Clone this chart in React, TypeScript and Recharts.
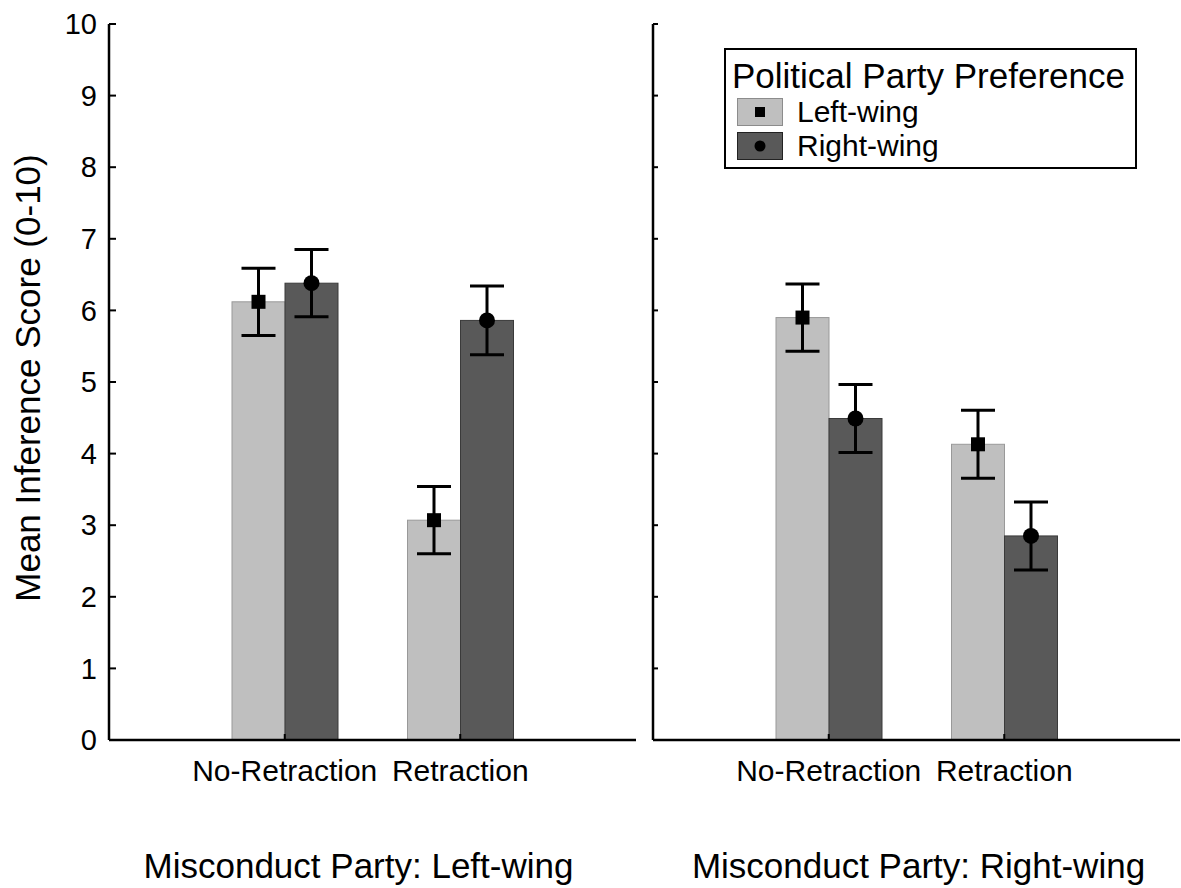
import React from "react";
import { BarChart, Bar, XAxis, YAxis, ErrorBar, Legend, Label } from "recharts";

const conditions = ["No-Retraction", "Retraction"];
const yTicks = [0, 1, 2, 3, 4, 5, 6, 7, 8, 9, 10];

// misconduct party: left-wing
const lwLeftMeans = [6.12, 3.07];
const lwLeftErrors = [0.47, 0.47];
const lwRightMeans = [6.38, 5.86];
const lwRightErrors = [0.47, 0.48];

// misconduct party: right-wing
const rwLeftMeans = [5.9, 4.13];
const rwLeftErrors = [0.47, 0.475];
const rwRightMeans = [4.49, 2.85];
const rwRightErrors = [0.475, 0.475];

const FONT = "'Liberation Sans', Arial, sans-serif";
const LIGHT = "#bfbfbf";
const DARK = "#595959";

const makeRows = (lm: number[], le: number[], rm: number[], re: number[]) =>
  conditions.map((c, i) => ({
    condition: c,
    left: lm[i],
    leftErr: le[i],
    right: rm[i],
    rightErr: re[i],
  }));

const leftRows = makeRows(lwLeftMeans, lwLeftErrors, lwRightMeans, lwRightErrors);
const rightRows = makeRows(rwLeftMeans, rwLeftErrors, rwRightMeans, rwRightErrors);

const LeftWingBar = (props: any) => {
  const { x, y, width, height } = props;
  const cx = x + width / 2;
  return (
    <g>
      <rect x={x} y={y} width={width} height={height} fill={LIGHT} stroke="#999" strokeWidth={1} />
      <rect x={cx - 7} y={y - 7} width={14} height={14} fill="#000" />
    </g>
  );
};

const RightWingBar = (props: any) => {
  const { x, y, width, height } = props;
  const cx = x + width / 2;
  return (
    <g>
      <rect x={x} y={y} width={width} height={height} fill={DARK} stroke="#3a3a3a" strokeWidth={1} />
      <circle cx={cx} cy={y} r={8} fill="#000" />
    </g>
  );
};

const Swatch = ({ fill, edge, marker }: { fill: string; edge: string; marker: "square" | "circle" }) => (
  <svg width={46} height={28} style={{ display: "block", marginTop: 3 }}>
    <rect x={0.5} y={0.5} width={45} height={27} fill={fill} stroke={edge} strokeWidth={1} />
    {marker === "square" ? (
      <rect x={18} y={9} width={10} height={10} fill="#000" />
    ) : (
      <circle cx={23} cy={14} r={5.5} fill="#000" />
    )}
  </svg>
);

const PartyLegend = () => (
  <div
    style={{
      boxSizing: "border-box",
      width: 413,
      height: 121,
      border: "2px solid #000",
      background: "#fff",
      fontFamily: FONT,
      color: "#000",
      paddingTop: 8,
    }}
  >
    <div style={{ fontSize: 35, lineHeight: "36px", paddingLeft: 6, whiteSpace: "nowrap" }}>
      Political Party Preference
    </div>
    {[
      { name: "Left-wing", fill: LIGHT, edge: "#8c8c8c", marker: "square" as const },
      { name: "Right-wing", fill: DARK, edge: "#222", marker: "circle" as const },
    ].map((it) => (
      <div
        key={it.name}
        style={{ display: "flex", alignItems: "flex-start", height: 33, paddingLeft: 11, marginTop: 1 }}
      >
        <Swatch fill={it.fill} edge={it.edge} marker={it.marker} />
        <span style={{ fontSize: 30, lineHeight: "33px", marginLeft: 14 }}>{it.name}</span>
      </div>
    ))}
  </div>
);

interface PanelProps {
  data: any[];
  title: string;
  titleShift: number;
  showYLabels: boolean;
  showLegend: boolean;
}

function Panel({ data, title, titleShift, showYLabels, showLegend }: PanelProps) {
  const width = showYLabels ? 650 : 581;
  const margin = showYLabels
    ? { top: 24, right: 14, left: 0, bottom: 8 }
    : { top: 24, right: 1, left: 0, bottom: 8 };
  return (
    <BarChart width={width} height={888} data={data} margin={margin} barSize={53} barGap={0}>
      <XAxis
        dataKey="condition"
        type="category"
        interval={0}
        padding={{ left: 88, right: 88 }}
        height={140}
        axisLine={{ stroke: "#000", strokeWidth: 2.5 }}
        tickLine={{ stroke: "#000", strokeWidth: 2 }}
        tickSize={-6}
        tickMargin={26}
        tick={{ fill: "#000", fontSize: 30, fontFamily: FONT }}
      >
        <Label
          content={(p: any) => {
            const vb = p.viewBox;
            return (
              <text
                x={vb.x + vb.width / 2 + titleShift}
                y={878}
                textAnchor="middle"
                fontSize={35}
                fontFamily={FONT}
                fill="#000"
              >
                {title}
              </text>
            );
          }}
        />
      </XAxis>
      <YAxis
        type="number"
        domain={[0, 10]}
        ticks={yTicks}
        interval={0}
        width={showYLabels ? 109 : 53}
        axisLine={{ stroke: "#000", strokeWidth: 2.5 }}
        tickLine={{ stroke: "#000", strokeWidth: 2 }}
        tickSize={showYLabels ? -7 : -5}
        tickMargin={19}
        tickFormatter={showYLabels ? (v: number) => String(v) : () => ""}
        tick={{ fill: "#000", fontSize: 29, fontFamily: FONT }}
      >
        {showYLabels && (
          <Label
            content={(p: any) => {
              const vb = p.viewBox;
              const cy = vb.y + vb.height / 2 - 4;
              return (
                <text
                  x={28}
                  y={cy}
                  transform={`rotate(-90 28 ${cy})`}
                  textAnchor="middle"
                  dy="0.355em"
                  fontSize={35}
                  fontFamily={FONT}
                  fill="#000"
                >
                  Mean Inference Score (0-10)
                </text>
              );
            }}
          />
        )}
      </YAxis>
      {showLegend && (
        <Legend
          layout="vertical"
          align="center"
          verticalAlign="middle"
          wrapperStyle={{ left: 124, top: 48, width: 413, height: 121 }}
          content={() => <PartyLegend />}
        />
      )}
      <Bar dataKey="left" name="Left-wing" shape={LeftWingBar} isAnimationActive={false}>
        <ErrorBar dataKey="leftErr" direction="y" width={17} stroke="#000" strokeWidth={3} />
      </Bar>
      <Bar dataKey="right" name="Right-wing" shape={RightWingBar} isAnimationActive={false}>
        <ErrorBar dataKey="rightErr" direction="y" width={17} stroke="#000" strokeWidth={3} />
      </Bar>
    </BarChart>
  );
}

export default function App() {
  return (
    <div style={{ position: "absolute", left: 0, top: 0, width: 1181, height: 888, background: "#fff" }}>
      <div style={{ position: "absolute", left: 0, top: 0 }}>
        <Panel data={leftRows} title="Misconduct Party: Left-wing" titleShift={-14} showYLabels showLegend={false} />
      </div>
      <div style={{ position: "absolute", left: 600, top: 0 }}>
        <Panel data={rightRows} title="Misconduct Party: Right-wing" titleShift={2} showYLabels={false} showLegend />
      </div>
    </div>
  );
}
